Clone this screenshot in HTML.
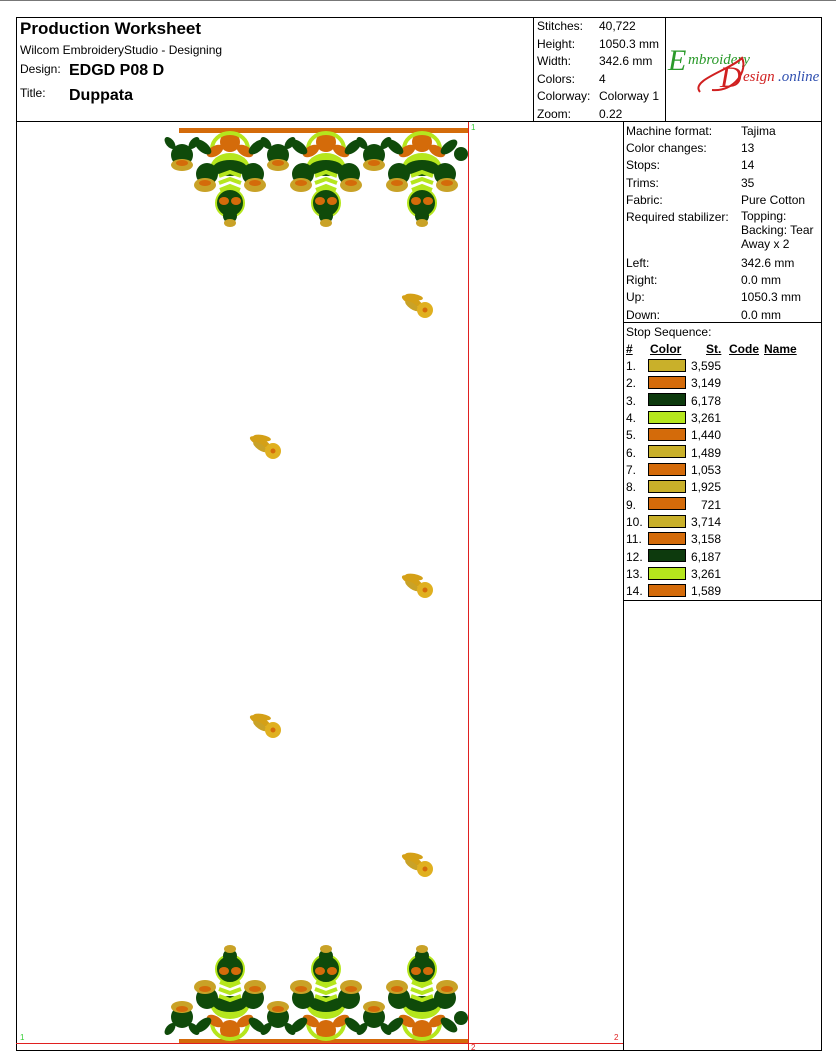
<!DOCTYPE html>
<html><head><meta charset="utf-8"><style>
body{margin:0;background:#fff;width:836px;height:1054px;overflow:hidden;font-family:"Liberation Sans",Arial,sans-serif;}
.t{position:absolute;white-space:nowrap;color:#000;}
</style></head><body>
<svg width="836" height="1054" style="position:absolute;left:0;top:0">
<defs>
<g id="m">
 <circle cx="0" cy="9" r="10" fill="#d46b0a"/>
 <path d="M-18,16 A18,16 0 0 1 18,16" fill="none" stroke="#b5e61d" stroke-width="4"/>
 <ellipse cx="-15" cy="18" rx="9" ry="5" fill="#d46b0a" transform="rotate(-30 -15 18)"/>
 <ellipse cx="15" cy="18" rx="9" ry="5" fill="#d46b0a" transform="rotate(30 15 18)"/>
 <ellipse cx="-27" cy="14" rx="10" ry="5" fill="#0f4a0a" transform="rotate(40 -27 14)"/>
 <ellipse cx="27" cy="14" rx="10" ry="5" fill="#0f4a0a" transform="rotate(-40 27 14)"/>
 <path d="M-20,36 A20,16 0 0 1 20,36" fill="#b5e61d"/>
 <ellipse cx="0" cy="35" rx="17" ry="8" fill="#0f4a0a"/>
 <path d="M-11,43 L0,39 L11,43 M-11,50 L0,46 L11,50 M-10,57 L0,53 L10,57" fill="none" stroke="#b5e61d" stroke-width="4"/>
 <circle cx="-23" cy="41" r="11" fill="#0f4a0a"/>
 <circle cx="23" cy="41" r="11" fill="#0f4a0a"/>
 <ellipse cx="-25" cy="52" rx="11" ry="7" fill="#c9a227"/>
 <ellipse cx="25" cy="52" rx="11" ry="7" fill="#c9a227"/>
 <ellipse cx="-25" cy="50" rx="6" ry="3" fill="#d46b0a"/>
 <ellipse cx="25" cy="50" rx="6" ry="3" fill="#d46b0a"/>
 <circle cx="0" cy="70" r="14" fill="#0f4a0a" stroke="#b5e61d" stroke-width="2"/>
 <ellipse cx="-6" cy="68" rx="5" ry="4" fill="#d46b0a"/>
 <ellipse cx="6" cy="68" rx="5" ry="4" fill="#d46b0a"/>
 <circle cx="0" cy="83" r="7" fill="#0f4a0a"/>
 <ellipse cx="0" cy="90" rx="6" ry="4" fill="#c9a227"/>
 <circle cx="-48" cy="22" r="11" fill="#0f4a0a"/>
 <ellipse cx="-48" cy="32" rx="11" ry="6" fill="#c9a227"/>
 <ellipse cx="-48" cy="30" rx="6" ry="3" fill="#d46b0a"/>
 <ellipse cx="-36" cy="10" rx="7" ry="4" fill="#0f4a0a" transform="rotate(-50 -36 10)"/>
 <ellipse cx="-60" cy="10" rx="7" ry="4" fill="#0f4a0a" transform="rotate(50 -60 10)"/>
</g>
<g id="s">
 <ellipse cx="-10" cy="-6" rx="11" ry="4" fill="#d4a017" transform="rotate(25 -10 -6)"/>
 <ellipse cx="-8" cy="-10" rx="9" ry="3" fill="#d4a017" transform="rotate(10 -8 -10)"/>
 <ellipse cx="-10" cy="-1" rx="8" ry="3" fill="#c9a227" transform="rotate(35 -10 -1)"/>
 <circle cx="3" cy="3" r="8" fill="#e0b020"/>
 <circle cx="3" cy="3" r="2.5" fill="#d46b0a"/>
</g>
</defs>
<line x1="0" y1="0.5" x2="836" y2="0.5" stroke="#777" stroke-width="1"/>
<rect x="16.5" y="17.5" width="805" height="1033" fill="none" stroke="#000"/>
<line x1="16" y1="121.5" x2="822" y2="121.5" stroke="#000"/>
<line x1="533.5" y1="17" x2="533.5" y2="121" stroke="#000"/>
<line x1="665.5" y1="17" x2="665.5" y2="121" stroke="#000"/>
<line x1="623.5" y1="121" x2="623.5" y2="1050" stroke="#000"/>
<line x1="623" y1="322.5" x2="822" y2="322.5" stroke="#000"/>
<line x1="623" y1="600.5" x2="822" y2="600.5" stroke="#000"/>
<line x1="468.5" y1="122" x2="468.5" y2="1050" stroke="#e02020"/>
<line x1="16" y1="1043.5" x2="623" y2="1043.5" stroke="#e02020"/>
<text x="471" y="130" font-size="8" fill="#3c3" font-family="Liberation Sans">1</text>
<text x="20" y="1040" font-size="8" fill="#3c3" font-family="Liberation Sans">1</text>
<text x="471" y="1050" font-size="8" fill="#e02020" font-family="Liberation Sans">2</text>
<text x="614" y="1040" font-size="8" fill="#e02020" font-family="Liberation Sans">2</text>
<rect x="179" y="128" width="289" height="5" fill="#d46b0a"/>
<g transform="translate(0,133)">
<use href="#m" x="230"/><use href="#m" x="326"/><use href="#m" x="422"/>
<circle cx="461" cy="21" r="7" fill="#0f4a0a"/>
</g>
<rect x="179" y="1039" width="289" height="4" fill="#d46b0a"/>
<g transform="translate(0,1039) scale(1,-1)">
<use href="#m" x="230"/><use href="#m" x="326"/><use href="#m" x="422"/>
<circle cx="461" cy="21" r="7" fill="#0f4a0a"/>
</g>
<use href="#s" x="422" y="307"/>
<use href="#s" x="270" y="448"/>
<use href="#s" x="422" y="587"/>
<use href="#s" x="270" y="727"/>
<use href="#s" x="422" y="866"/>
<text x="668" y="70" font-family="Liberation Serif" font-style="italic" font-size="30" fill="#2a9a2a">E</text>
<text x="688" y="64" font-family="Liberation Serif" font-style="italic" font-size="15" fill="#2a9a2a">mbroidery</text>
<path d="M700,92 C690,80 730,70 742,58 C748,70 735,92 712,90" fill="none" stroke="#d02020" stroke-width="2"/>
<text x="720" y="87" font-family="Liberation Serif" font-style="italic" font-size="30" fill="#d02020">D</text>
<text x="743" y="81" font-family="Liberation Serif" font-style="italic" font-size="15" fill="#d02020">esign</text>
<text x="778" y="81" font-family="Liberation Serif" font-style="italic" font-size="15" fill="#3050b0">.online</text>
<g stroke="#000" stroke-width="1">
<rect x="648.5" y="359.5" width="37" height="12" fill="#c9b02a"/>
<rect x="648.5" y="376.5" width="37" height="12" fill="#d46b0a"/>
<rect x="648.5" y="393.5" width="37" height="12" fill="#0d3a0d"/>
<rect x="648.5" y="411.5" width="37" height="12" fill="#b5e61d"/>
<rect x="648.5" y="428.5" width="37" height="12" fill="#d46b0a"/>
<rect x="648.5" y="445.5" width="37" height="12" fill="#c9b02a"/>
<rect x="648.5" y="463.5" width="37" height="12" fill="#d46b0a"/>
<rect x="648.5" y="480.5" width="37" height="12" fill="#c9b02a"/>
<rect x="648.5" y="497.5" width="37" height="12" fill="#d46b0a"/>
<rect x="648.5" y="515.5" width="37" height="12" fill="#c9b02a"/>
<rect x="648.5" y="532.5" width="37" height="12" fill="#d46b0a"/>
<rect x="648.5" y="549.5" width="37" height="12" fill="#0d3a0d"/>
<rect x="648.5" y="567.5" width="37" height="12" fill="#b5e61d"/>
<rect x="648.5" y="584.5" width="37" height="12" fill="#d46b0a"/>
</g>
</svg>
<div class="t" style="left:20px;top:19px;font-size:17px;font-weight:bold">Production Worksheet</div>
<div class="t" style="left:20px;top:43px;font-size:12px">Wilcom EmbroideryStudio - Designing</div>
<div class="t" style="left:20px;top:62px;font-size:12px">Design:</div>
<div class="t" style="left:69px;top:62px;font-size:16px;font-weight:bold">EDGD P08 D</div>
<div class="t" style="left:20px;top:86px;font-size:12px">Title:</div>
<div class="t" style="left:69px;top:87px;font-size:16px;font-weight:bold">Duppata</div>
<div class="t" style="left:537px;top:18px;font-size:12px;line-height:17.5px">Stitches:<br>Height:<br>Width:<br>Colors:<br>Colorway:<br>Zoom:</div>
<div class="t" style="left:599px;top:18px;font-size:12px;line-height:17.5px">40,722<br>1050.3 mm<br>342.6 mm<br>4<br>Colorway 1<br>0.22</div>
<div class="t" style="left:626px;top:123px;font-size:12px;line-height:17.2px">Machine format:<br>Color changes:<br>Stops:<br>Trims:<br>Fabric:<br>Required stabilizer:</div>
<div class="t" style="left:741px;top:123px;font-size:12px;line-height:17.2px">Tajima<br>13<br>14<br>35<br>Pure Cotton</div>
<div class="t" style="left:741px;top:209px;font-size:12px;line-height:14px">Topping:<br>Backing: Tear<br>Away x 2</div>
<div class="t" style="left:626px;top:255px;font-size:12px;line-height:17.2px">Left:<br>Right:<br>Up:<br>Down:</div>
<div class="t" style="left:741px;top:255px;font-size:12px;line-height:17.2px">342.6 mm<br>0.0 mm<br>1050.3 mm<br>0.0 mm</div>
<div class="t" style="left:626px;top:325px;font-size:12px">Stop Sequence:</div>
<div class="t" style="left:626px;top:342px;font-size:12px;font-weight:bold;text-decoration:underline">#</div>
<div class="t" style="left:650px;top:342px;font-size:12px;font-weight:bold;text-decoration:underline">Color</div>
<div class="t" style="left:706px;top:342px;font-size:12px;font-weight:bold;text-decoration:underline">St.</div>
<div class="t" style="left:729px;top:342px;font-size:12px;font-weight:bold;text-decoration:underline">Code</div>
<div class="t" style="left:764px;top:342px;font-size:12px;font-weight:bold;text-decoration:underline">Name</div>
<div class="t" style="left:626px;top:358px;font-size:12px;line-height:17.35px">1.<br>2.<br>3.<br>4.<br>5.<br>6.<br>7.<br>8.<br>9.<br>10.<br>11.<br>12.<br>13.<br>14.</div>
<div class="t" style="left:686px;top:358px;width:35px;text-align:right;font-size:12px;line-height:17.35px">3,595<br>3,149<br>6,178<br>3,261<br>1,440<br>1,489<br>1,053<br>1,925<br>721<br>3,714<br>3,158<br>6,187<br>3,261<br>1,589</div>
</body></html>
